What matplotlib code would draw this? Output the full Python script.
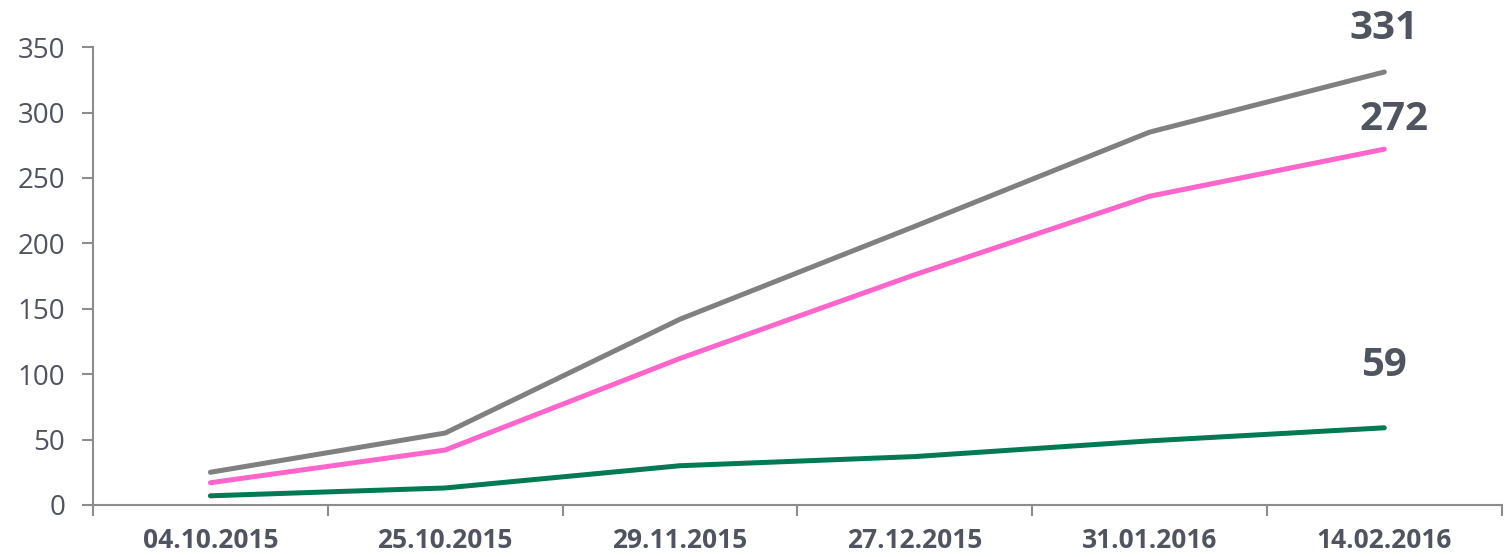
import matplotlib
matplotlib.use("Agg")
import matplotlib.pyplot as plt

dates = ["04.10.2015", "25.10.2015", "29.11.2015", "27.12.2015", "31.01.2016", "14.02.2016"]
gray_vals = [25, 55, 142, 213, 285, 331]
pink_vals = [17, 42, 112, 176, 236, 272]
green_vals = [7, 13, 30, 37, 49, 59]

TXT = "#50545f"
AX = "#8c8c8c"

plt.rcParams["font.family"] = ["Open Sans", "DejaVu Sans"]

fig = plt.figure(figsize=(15.05, 5.57), dpi=100)
ax = fig.add_axes([0.0618, 0.0934, 0.936, 0.822])

x = list(range(len(dates)))
series = [
    (gray_vals, "#808080", (0, 17)),
    (pink_vals, "#ff66cc", (7, 7)),
    (green_vals, "#007a53", (0, 31)),
]
for vals, col, off in series:
    ax.plot(x, vals, color=col, lw=3.6, solid_capstyle="round", zorder=3)
    ax.annotate(str(vals[-1]), (x[-1], vals[-1]), xytext=off, textcoords="offset points",
                ha="center", va="bottom", fontsize=29, fontweight="bold", color=TXT)

ax.set_xlim(-0.5, len(dates) - 0.5)
ax.set_ylim(0, 350)
ax.set_yticks(range(0, 351, 50))
ax.set_xticks(x)
ax.set_xticklabels(dates)
ax.set_xticks([i - 0.5 for i in range(len(dates) + 1)], minor=True)
ax.tick_params(axis="x", which="major", length=0, pad=16, labelsize=19, labelcolor=TXT)
for lab in ax.get_xticklabels():
    lab.set_fontweight("bold")
ax.tick_params(axis="x", which="minor", length=8, width=1.5, color=AX, direction="out")
ax.tick_params(axis="y", length=8, width=1.5, color=AX, pad=12, labelsize=20, labelcolor=TXT)

for s in ["top", "right"]:
    ax.spines[s].set_visible(False)
for s in ["left", "bottom"]:
    ax.spines[s].set_color(AX)
    ax.spines[s].set_linewidth(1.5)

fig.savefig("out.png", dpi=100)
